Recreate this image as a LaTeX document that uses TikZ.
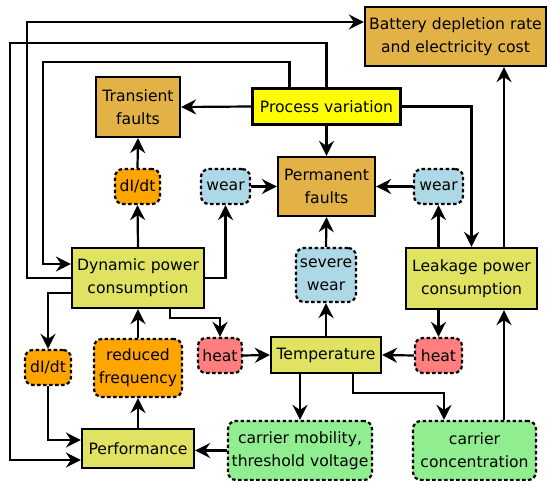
\documentclass[tikz,border=0pt]{standalone}
\usepackage{fontspec}
\setmainfont{DejaVu Sans}
\usetikzlibrary{arrows.meta}
\definecolor{gold}{RGB}{226,178,70}
\definecolor{procyel}{RGB}{255,255,0}
\definecolor{olive}{RGB}{224,226,98}
\definecolor{orng}{RGB}{255,165,0}
\definecolor{lblue}{RGB}{173,216,230}
\definecolor{lred}{RGB}{255,127,127}
\definecolor{lgreen}{RGB}{144,238,144}
\tikzset{
  box/.style={draw, line width=2.2pt, align=center, inner sep=0pt,
    font=\fontsize{15.6}{23}\selectfont},
  solidbox/.style={box},
  effect/.style={box, dash pattern=on 3.5pt off 2.5pt, rounded corners=8pt},
  arr/.style={line width=2.2pt, -{Stealth[length=15pt,width=15pt,inset=5pt]}},
}
\begin{document}
\begin{tikzpicture}[x=1pt,y=-1pt]
\useasboundingbox (0,0) rectangle (547,481);
% rectangular quantities
\node[solidbox, fill=gold, minimum width=181pt, minimum height=59pt] (batt) at (455.5,36.5) {Battery depletion rate\\and electricity cost};
\node[solidbox, fill=procyel, minimum width=148pt, minimum height=36pt] (proc) at (326.5,106.5) {Process variation};
\node[solidbox, fill=gold, minimum width=84pt, minimum height=60pt] (trans) at (138,107) {Transient\\faults};
\node[solidbox, fill=gold, minimum width=97pt, minimum height=59pt] (perm) at (326.5,186.5) {Permanent\\faults};
\node[solidbox, fill=olive, minimum width=132pt, minimum height=60pt] (dyn) at (138,278) {Dynamic power\\consumption};
\node[solidbox, fill=olive, minimum width=131pt, minimum height=61pt] (leak) at (471.5,278.5) {Leakage power\\consumption};
\node[solidbox, fill=olive, minimum width=110pt, minimum height=36pt] (temp) at (326,355) {Temperature};
\node[solidbox, fill=olive, minimum width=112pt, minimum height=39pt] (perf) at (138,448.5) {Performance};
% rounded dashed effects
\node[effect, fill=orng, minimum width=45pt, minimum height=35pt] (didt1) at (137.5,186.5) {dI/dt};
\node[effect, fill=lblue, minimum width=49pt, minimum height=35pt] (wearL) at (225.5,186.5) {wear};
\node[effect, fill=lblue, minimum width=49pt, minimum height=35pt] (wearR) at (438.5,186.5) {wear};
\node[effect, fill=lblue, minimum width=60pt, minimum height=54pt] (sev) at (326,275) {severe\\wear};
\node[effect, fill=orng, minimum width=46pt, minimum height=35pt] (didt2) at (48,367.5) {dI/dt};
\node[effect, fill=orng, minimum width=88pt, minimum height=58pt] (redf) at (138,368) {reduced\\frequency};
\node[effect, fill=lred, minimum width=44pt, minimum height=35pt] (heatL) at (220,355.5) {heat};
\node[effect, fill=lred, minimum width=47pt, minimum height=35pt] (heatR) at (438.5,355.5) {heat};
\node[effect, fill=lgreen, minimum width=144pt, minimum height=59pt] (cmob) at (300,450.5) {carrier mobility,\\threshold voltage};
\node[effect, fill=lgreen, minimum width=123pt, minimum height=59pt] (ccon) at (474.5,450.5) {carrier\\concentration};
% helper points on box edges
\coordinate (lkT) at ([xshift=32.5pt]leak.north);
\coordinate (ccT) at ([xshift=29.5pt]ccon.north);
\coordinate (ccL) at ([xshift=-30.5pt]ccon.north);
% process variation
\draw[arr] (proc.west) -- (trans.east);
\draw[arr] (proc.south) -- (perm.north);
\draw[arr] (proc.east) -| (leak.north);
\draw[arr] ([xshift=-37pt]proc.north) |- (43,62) |- ([yshift=14pt]dyn.west);
\draw[arr] (proc.north) |- (10,43) |- ([yshift=-11.5pt]perf.west);
% dynamic power
\draw[arr] (dyn.west) -| (27,22) -- ([yshift=14.5pt]batt.west);
\draw[arr] (dyn.east) -| (wearL.south);
\draw[arr] (wearL.east) -- (perm.west);
\draw[arr] (dyn.north) -- (didt1.south);
\draw[arr] (didt1.north) -- (trans.south);
\draw[arr] ([yshift=-15pt]dyn.west) -| (didt2.north);
\draw[arr] (didt2.south) |- ([yshift=8.5pt]perf.west);
\draw[arr] (perf.north) -- (redf.south);
\draw[arr] (redf.north) -- (dyn.south);
\draw[arr] ([xshift=32pt]dyn.south) -- ++(0,9) -| (heatL.north);
\draw[arr] (heatL.east) -- (temp.west);
% temperature
\draw[arr] (temp.north) -- (sev.south);
\draw[arr] (sev.north) -- (perm.south);
\draw[arr] (heatR.west) -- (temp.east);
\draw[arr] (temp.south -| cmob.north) -- (cmob.north);
\draw[arr] ([xshift=27pt]temp.south) -- ++(0,19) -| (ccL);
\draw[arr] (cmob.west) -- (cmob.west -| perf.east);
% leakage power
\draw[arr] (heatR.north |- leak.south) -- (heatR.north);
\draw[arr] (wearR.south |- leak.north) -- (wearR.south);
\draw[arr] (wearR.west) -- (perm.east);
\draw[arr] (lkT) -- (lkT |- batt.south);
\draw[arr] (ccT) -- (ccT |- leak.south);
\end{tikzpicture}
\end{document}
